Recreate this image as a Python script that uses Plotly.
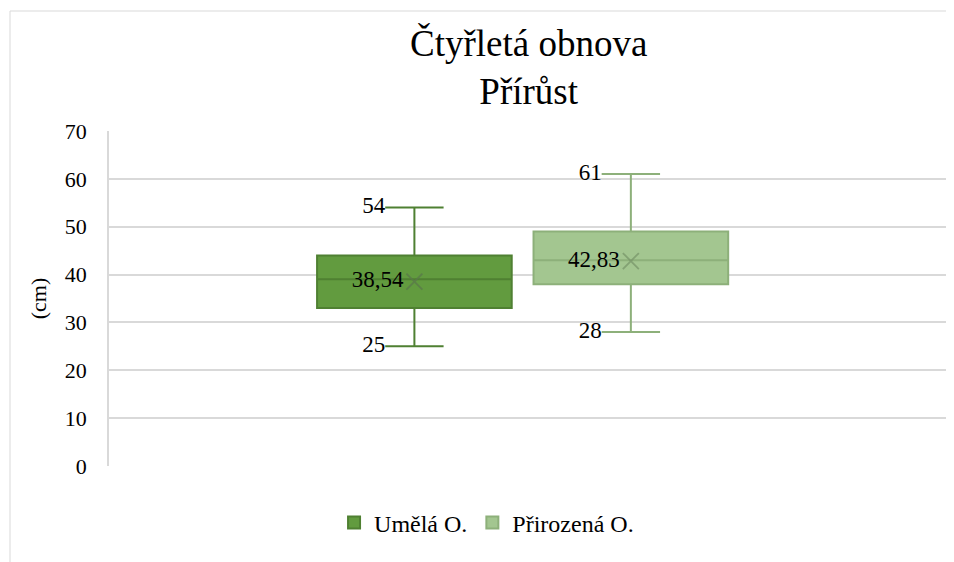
import plotly.graph_objects as go

# data
names = ['Umělá O.', 'Přirozená O.']
q1 = [33, 38]
median = [39, 43]
q3 = [44, 49]
low = [25, 28]
high = [54, 61]
mean = [38.54, 42.83]

fills = ['#629B3F', '#A3C690']
borders = ['#4F8032', '#8DB07A']
mean_colors = ['rgba(90,120,75,0.75)', 'rgba(120,150,105,0.75)']

pos = [-0.136, 0.122]
box_w = 0.232
whisk = 0.3
FONT = "Times New Roman"

fig = go.Figure()
for i in range(2):
    fig.add_trace(go.Box(
        x=[pos[i]], q1=[q1[i]], median=[median[i]], q3=[q3[i]],
        lowerfence=[low[i]], upperfence=[high[i]],
        name=names[i], width=box_w, whiskerwidth=whisk,
        fillcolor=fills[i], line=dict(color=borders[i], width=2),
        hoverinfo='skip',
    ))

for i in range(2):
    # mean marker + label
    fig.add_trace(go.Scatter(
        x=[pos[i]], y=[mean[i]], mode='markers+text',
        marker=dict(symbol='x-thin', size=16,
                    line=dict(color=mean_colors[i], width=1.8)),
        texttemplate='%{y:.2f}', textposition='middle left',
        textfont=dict(size=23, color='black', family=FONT),
        showlegend=False, hoverinfo='skip', cliponaxis=False,
    ))
    # min / max labels at the left end of the caps
    cap = box_w * whisk / 2
    fig.add_trace(go.Scatter(
        x=[pos[i] - cap, pos[i] - cap], y=[low[i], high[i]], mode='text',
        text=[str(low[i]), str(high[i])], textposition='middle left',
        textfont=dict(size=23, color='black', family=FONT),
        showlegend=False, hoverinfo='skip', cliponaxis=False,
    ))

# page body adds an 8px offset, so the figure is sized to fit
fig.update_layout(
    width=946, height=554,
    margin=dict(l=101, r=6, t=123, b=96),
    paper_bgcolor='white', plot_bgcolor='white',
    font=dict(family=FONT, size=22, color='black'),
    separators=', ',
    xaxis=dict(range=[-0.5, 0.5], showticklabels=False, showgrid=False,
               zeroline=False, ticks=''),
    yaxis=dict(range=[0, 70], dtick=10, showgrid=True, gridcolor='#D9D9D9',
               gridwidth=1.5, zeroline=False, showline=True, linecolor='#D9D9D9',
               linewidth=1.5, ticks='outside', ticklen=16, tickcolor='rgba(0,0,0,0)',
               title=dict(text='(cm)', font=dict(size=22, family=FONT), standoff=12),
               tickfont=dict(size=22, family=FONT)),
    legend=dict(orientation='h', x=0.45, xanchor='center', y=-0.17, yanchor='middle',
                font=dict(size=24, family=FONT), itemclick=False),
    showlegend=True,
)

fig.add_annotation(text='Čtyřletá obnova<br>Přírůst', xref='paper', yref='paper',
                   x=0.5, y=1 + 63 / 335, xanchor='center', yanchor='middle',
                   showarrow=False, font=dict(size=37, family=FONT, color='black'))

# light chart-area frame like the Excel original
fig.add_shape(type='rect', xref='paper', yref='paper',
              x0=-99 / 839, x1=1.2, y0=-1.0, y1=1 + 120 / 335,
              line=dict(color='#D9D9D9', width=1), layer='below')

fig.write_html("out.html")
